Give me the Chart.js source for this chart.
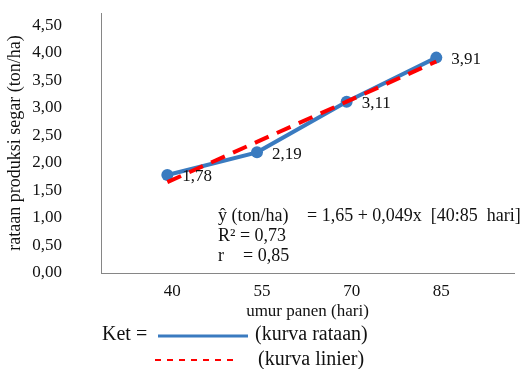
<!DOCTYPE html>
<html>
<head>
<meta charset="utf-8">
<script src="https://cdn.jsdelivr.net/npm/chart.js@4"></script>
<style>
  html, body { margin: 0; padding: 0; background: #fff; }
  canvas { display: block; }
</style>
</head>
<body>
<canvas id="umurChart" width="520" height="369"></canvas>
<script>
// umur panen (hari)
const umurPanen = [40, 55, 70, 85];
// rataan produksi segar (ton/ha)
const kurvaRataan = [1.78, 2.19, 3.11, 3.91];
// kurva linier
const kurvaLinier = [1.65, 2.38, 3.11, 3.84];
const yTickValues = [0, 0.5, 1, 1.5, 2, 2.5, 3, 3.5, 4, 4.5];
const xTickValues = [40, 55, 70, 85];

const SERIF = "'Liberation Serif', 'Times New Roman', serif";
const BLUE = '#3a7bc0';
const RED = '#ff0000';
const INK = '#111';

const koma = v => v.toFixed(2).replace('.', ',');

// labels next to the blue points, formula text and the "Ket =" legend
const extras = {
    id: 'extras',
    afterDatasetsDraw(chart) {
        const ctx = chart.ctx;
        ctx.save();
        ctx.fillStyle = INK;
        ctx.textAlign = 'left';
        ctx.textBaseline = 'middle';
        ctx.font = '17px ' + SERIF;
        const meta = chart.getDatasetMeta(1);
        meta.data.forEach((pt, i) => {
            ctx.fillText(koma(kurvaRataan[i]), pt.x + 15, pt.y + 2);
        });
        ctx.restore();
    },
    afterDraw(chart) {
        const ctx = chart.ctx;
        ctx.save();
        ctx.fillStyle = INK;
        ctx.textAlign = 'left';
        ctx.textBaseline = 'middle';

        ctx.font = '18px ' + SERIF;
        ctx.fillText('ŷ (ton/ha)', 218, 216);
        ctx.fillText('= 1,65 + 0,049x  [40:85  hari]', 307, 216);
        ctx.fillText('R² = 0,73', 218, 236);
        ctx.fillText('r', 218, 256);
        ctx.fillText('= 0,85', 243, 256);

        // legend
        ctx.font = '20px ' + SERIF;
        ctx.fillText('Ket =', 102, 335);
        ctx.fillText('(kurva rataan)', 255, 335);
        ctx.fillText('(kurva linier)', 258, 360);

        ctx.strokeStyle = BLUE;
        ctx.lineWidth = 3;
        ctx.beginPath();
        ctx.moveTo(158, 336);
        ctx.lineTo(248, 336);
        ctx.stroke();

        ctx.strokeStyle = RED;
        ctx.lineWidth = 2;
        ctx.setLineDash([6, 6]);
        ctx.beginPath();
        ctx.moveTo(155, 360);
        ctx.lineTo(235, 360);
        ctx.stroke();
        ctx.restore();
    }
};

new Chart(document.getElementById('umurChart'), {
    type: 'line',
    data: {
        datasets: [
            {
                label: 'kurva linier',
                data: umurPanen.map((x, i) => ({ x: x, y: kurvaLinier[i] })),
                borderColor: RED,
                borderWidth: 4,
                borderDash: [15, 9],
                pointRadius: 0,
                fill: false,
                order: 1
            },
            {
                label: 'kurva rataan',
                data: umurPanen.map((x, i) => ({ x: x, y: kurvaRataan[i] })),
                borderColor: BLUE,
                backgroundColor: BLUE,
                borderWidth: 4,
                pointRadius: 6,
                pointBorderWidth: 0,
                pointBackgroundColor: BLUE,
                fill: false,
                order: 2
            }
        ]
    },
    options: {
        responsive: false,
        animation: false,
        layout: { padding: { left: 0, right: 3, top: 13, bottom: 46 } },
        plugins: {
            legend: { display: false },
            tooltip: { enabled: false }
        },
        scales: {
            x: {
                type: 'linear',
                min: 28.9,
                max: 98,
                afterBuildTicks: s => { s.ticks = xTickValues.map(v => ({ value: v })); },
                afterFit: s => { s.height = 50; s.paddingLeft = 0; s.paddingRight = 0; },
                grid: { display: false, drawTicks: false },
                border: { display: true, color: '#868686', width: 1 },
                ticks: {
                    padding: 8,
                    labelOffset: 5,
                    color: INK,
                    font: { family: SERIF, size: 17 },
                    callback: v => String(v)
                },
                title: {
                    display: true,
                    text: 'umur panen (hari)',
                    color: INK,
                    font: { family: SERIF, size: 17 },
                    padding: { top: 0, bottom: 1 }
                }
            },
            y: {
                min: 0,
                max: 4.72,
                afterBuildTicks: s => { s.ticks = yTickValues.map(v => ({ value: v })); },
                afterFit: s => { s.width = 101; s.paddingTop = 0; s.paddingBottom = 0; },
                grid: { display: false, drawTicks: false },
                border: { display: true, color: '#868686', width: 1 },
                ticks: {
                    padding: 39,
                    color: INK,
                    font: { family: SERIF, size: 17 },
                    callback: v => koma(v)
                },
                title: {
                    display: true,
                    text: 'rataan produksi segar (ton/ha)',
                    color: INK,
                    font: { family: SERIF, size: 18 },
                    padding: { top: 4, bottom: 0 }
                }
            }
        }
    },
    plugins: [extras]
});
</script>
</body>
</html>
